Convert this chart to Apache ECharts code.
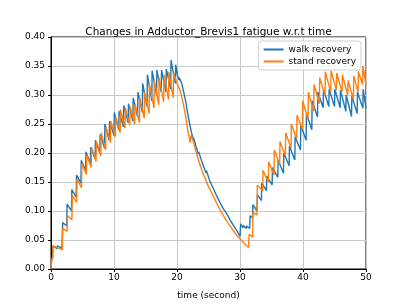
<!DOCTYPE html>
<html>
<head>
<meta charset="utf-8">
<script src="https://cdn.jsdelivr.net/npm/echarts@6/dist/echarts.min.js"></script>
<style>html,body{margin:0;padding:0;background:#fff}#c{width:407px;height:305px}</style>
</head>
<body>
<div id="c"></div>
<script>
const titleText = "Changes in Adductor_Brevis1 fatigue w.r.t time";
const seriesNames = ["walk recovery", "stand recovery"];
const xTicks = [0, 10, 20, 30, 40, 50];
const yTicks = [0.00, 0.05, 0.10, 0.15, 0.20, 0.25, 0.30, 0.35, 0.40];

const walkTime = [0,0.1,0.25,0.3,0.95,1.0,1.75,1.85,2.5,2.55,3.25,3.3,4.0,4.05,4.75,4.8,5.5,5.55,6.25,6.3,7.0,7.05,7.75,7.8,8.5,8.55,9.25,9.3,10.0,10.05,10.75,10.8,11.5,11.55,12.25,12.3,13.0,13.05,13.75,13.8,14.5,14.55,15.25,15.3,16.0,16.05,16.75,16.8,17.5,17.55,18.25,18.3,19.0,19.05,19.75,19.8,20.1,20.3,20.35,20.75,21.0,21.4,21.8,22.2,22.6,22.65,23.0,23.4,23.45,24.0,24.6,24.65,25.2,25.8,26.3,26.8,27.3,27.9,28.4,28.9,29.5,30.0,30.1,30.5,30.55,31.0,31.05,31.55,31.6,32.0,32.05,32.7,32.75,33.4,33.45,34.2,34.25,35.1,35.15,36.0,36.05,36.9,36.95,37.8,37.85,38.7,38.75,39.6,39.65,40.5,40.55,41.4,41.45,42.3,42.35,43.2,43.25,44.1,44.15,45.0,45.05,45.9,45.95,46.8,46.85,47.7,47.75,48.6,48.65,49.5,49.55,50.0];
const walkFatigue = [0,0.015,0.02,0.04,0.035,0.04,0.036,0.080,0.074,0.112,0.100,0.137,0.124,0.162,0.148,0.187,0.170,0.202,0.182,0.210,0.190,0.222,0.200,0.232,0.208,0.250,0.222,0.255,0.230,0.270,0.240,0.272,0.245,0.282,0.252,0.285,0.255,0.295,0.262,0.305,0.270,0.320,0.280,0.335,0.290,0.342,0.300,0.343,0.305,0.343,0.305,0.345,0.310,0.360,0.320,0.352,0.333,0.326,0.330,0.320,0.308,0.288,0.262,0.240,0.222,0.226,0.212,0.198,0.202,0.183,0.166,0.170,0.152,0.138,0.126,0.115,0.105,0.095,0.085,0.076,0.066,0.056,0.078,0.071,0.075,0.070,0.074,0.070,0.092,0.088,0.111,0.100,0.128,0.118,0.148,0.135,0.160,0.145,0.175,0.158,0.188,0.165,0.200,0.178,0.212,0.188,0.228,0.205,0.248,0.222,0.268,0.240,0.290,0.262,0.305,0.278,0.310,0.280,0.310,0.280,0.310,0.278,0.308,0.272,0.300,0.263,0.298,0.268,0.305,0.277,0.310,0.277];

const standTime = [0,0.1,0.25,0.3,1.0,1.8,1.85,2.55,2.6,3.32,3.37,4.08,4.13,4.85,4.9,5.62,5.67,6.38,6.43,7.15,7.2,7.91,7.96,8.68,8.73,9.45,9.5,10.21,10.26,10.98,11.03,11.75,11.8,12.51,12.56,13.28,13.33,14.05,14.1,14.81,14.86,15.58,15.63,16.35,16.4,17.11,17.16,17.88,17.93,18.65,18.7,19.41,19.46,20.0,20.5,20.9,21.3,21.7,22.1,22.2,22.6,23.0,23.5,24.0,24.5,25.0,25.5,26.0,26.5,27.0,27.5,28.0,28.5,29.0,29.5,30.0,30.7,31.35,31.45,32.0,32.05,32.7,32.75,33.6,33.65,34.5,34.55,35.4,35.45,36.3,36.35,37.2,37.25,38.1,38.15,39.0,39.05,39.9,39.95,40.8,40.85,41.7,41.75,42.6,42.65,43.5,43.55,44.4,44.45,45.3,45.35,46.2,46.25,47.1,47.15,48.0,48.05,48.75,48.8,49.45,49.5,50.0];
const standFatigue = [0,0.015,0.02,0.04,0.037,0.033,0.070,0.065,0.092,0.085,0.127,0.115,0.155,0.140,0.182,0.163,0.197,0.175,0.210,0.185,0.220,0.195,0.235,0.205,0.245,0.218,0.255,0.228,0.262,0.235,0.275,0.243,0.278,0.248,0.280,0.250,0.285,0.252,0.295,0.260,0.305,0.268,0.318,0.278,0.325,0.283,0.330,0.288,0.335,0.292,0.340,0.295,0.338,0.320,0.308,0.290,0.268,0.240,0.218,0.230,0.220,0.203,0.185,0.168,0.155,0.142,0.131,0.120,0.109,0.099,0.090,0.081,0.073,0.065,0.058,0.052,0.044,0.037,0.060,0.055,0.098,0.093,0.145,0.135,0.170,0.150,0.185,0.162,0.205,0.180,0.220,0.195,0.235,0.208,0.250,0.225,0.265,0.240,0.290,0.258,0.305,0.272,0.318,0.285,0.330,0.300,0.340,0.305,0.342,0.308,0.338,0.305,0.335,0.300,0.325,0.292,0.333,0.305,0.340,0.318,0.350,0.318];

const zip = (a, b) => a.map((t, i) => [t, b[i]]);
const font = "DejaVu Sans";
const chart = echarts.init(document.getElementById('c'), null, {renderer: 'canvas'});
chart.setOption({
  animation: false,
  backgroundColor: '#fff',
  title: {
    text: titleText, left: 203.5, top: 22, textAlign: 'center',
    textStyle: {fontFamily: font, fontSize: 10.5, fontWeight: 'normal', color: '#000'}
  },
  grid: {left: 51, right: 41, top: 37, bottom: 34, containLabel: false,
         show: true, borderColor: '#000', borderWidth: 1, backgroundColor: 'transparent'},
  legend: {
    data: seriesNames, orient: 'vertical', right: 46, top: 41,
    icon: 'rect', itemWidth: 20, itemHeight: 2, itemGap: 3,
    padding: [4, 5, 4, 5],
    backgroundColor: 'rgba(255,255,255,0.8)', borderColor: '#d0d0d0', borderWidth: 1, borderRadius: 3,
    textStyle: {fontFamily: font, fontSize: 9, color: '#000'}
  },
  xAxis: {
    type: 'value', min: xTicks[0], max: xTicks[xTicks.length - 1], interval: 10,
    name: 'time (second)', nameLocation: 'middle', nameGap: 22,
    nameTextStyle: {fontFamily: font, fontSize: 9, color: '#000'},
    axisLine: {show: true, lineStyle: {color: '#000', width: 1}},
    axisTick: {show: true, length: 3, lineStyle: {color: '#000'}},
    axisLabel: {fontFamily: font, fontSize: 9, color: '#000', margin: 4},
    splitLine: {show: true, lineStyle: {color: '#c8c8c8', width: 1}}
  },
  yAxis: {
    type: 'value', min: yTicks[0], max: yTicks[yTicks.length - 1], interval: 0.05,
    axisLine: {show: true, lineStyle: {color: '#000', width: 1}},
    axisTick: {show: true, length: 3, lineStyle: {color: '#000'}},
    axisLabel: {fontFamily: font, fontSize: 9, color: '#000', margin: 6,
                formatter: v => v.toFixed(2)},
    splitLine: {show: true, lineStyle: {color: '#c8c8c8', width: 1}}
  },
  series: [
    {name: seriesNames[0], type: 'line', data: zip(walkTime, walkFatigue), showSymbol: false, symbol: 'none',
     color: '#1f77b4', lineStyle: {color: '#1f77b4', width: 1.4}, z: 2},
    {name: seriesNames[1], type: 'line', data: zip(standTime, standFatigue), showSymbol: false, symbol: 'none',
     color: '#ff7f0e', lineStyle: {color: '#ff7f0e', width: 1.4}, z: 3}
  ]
});
</script>
</body>
</html>
